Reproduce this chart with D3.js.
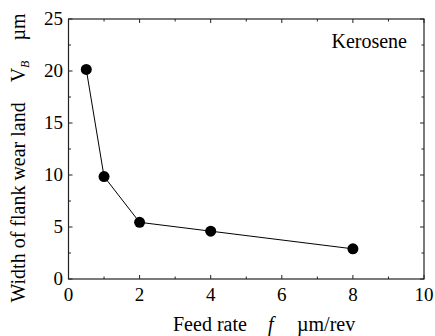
<!DOCTYPE html>
<html><head><meta charset="utf-8">
<script src="https://cdn.jsdelivr.net/npm/d3@7"></script>
<style>body{margin:0;background:#fff} svg text{font-family:'Liberation Serif','Times New Roman',serif;}</style>
</head><body>
<svg id="c" width="435" height="336"></svg>
<script>
const feedRate = [0.5, 1, 2, 4, 8];
const wearWidth = [20.15, 9.85, 5.45, 4.6, 2.9];
const xTicks = [0, 2, 4, 6, 8, 10];
const yTicks = [0, 5, 10, 15, 20, 25];
const xMinor = [1, 3, 5, 7, 9];
const yMinor = [2.5, 7.5, 12.5, 17.5, 22.5];

const svg = d3.select("#c");
const L = 68.5, R = 424, T = 19, B = 279;
const x = d3.scaleLinear().domain([0, 10]).range([L, R]);
const y = d3.scaleLinear().domain([0, 25]).range([B, T]);
const col = "#222";

function ticks(vals, len) {
  vals.forEach(v => {
    svg.append("line").attr("x1", x(v)).attr("x2", x(v)).attr("y1", B).attr("y2", B - len).attr("stroke", col);
    svg.append("line").attr("x1", x(v)).attr("x2", x(v)).attr("y1", T).attr("y2", T + len).attr("stroke", col);
  });
}
function yticks(vals, len) {
  vals.forEach(v => {
    svg.append("line").attr("y1", y(v)).attr("y2", y(v)).attr("x1", L).attr("x2", L + len).attr("stroke", col);
    svg.append("line").attr("y1", y(v)).attr("y2", y(v)).attr("x1", R).attr("x2", R - len).attr("stroke", col);
  });
}
ticks(xTicks, 4); ticks(xMinor, 2.5);
yticks(yTicks, 4); yticks(yMinor, 2.5);

svg.append("rect").attr("x", L).attr("y", T).attr("width", R - L).attr("height", B - T)
  .attr("fill", "none").attr("stroke", col).attr("stroke-width", 1.2);

xTicks.forEach(v => svg.append("text").attr("x", x(v)).attr("y", 301).attr("text-anchor", "middle")
  .attr("font-size", 19).text(v));
yTicks.forEach(v => svg.append("text").attr("x", 63).attr("y", y(v) + 6).attr("text-anchor", "end")
  .attr("font-size", 19).text(v));

const data = feedRate.map((f, i) => [f, wearWidth[i]]);
svg.append("path").datum(data).attr("d", d3.line().x(d => x(d[0])).y(d => y(d[1])))
  .attr("fill", "none").attr("stroke", "#000").attr("stroke-width", 1);
svg.selectAll("circle").data(data).enter().append("circle")
  .attr("cx", d => x(d[0])).attr("cy", d => y(d[1])).attr("r", 5.5).attr("fill", "#000");

svg.append("text").attr("x", 407).attr("y", 48).attr("text-anchor", "end")
  .attr("font-size", 20).text("Kerosene");

const xt = svg.append("text").attr("x", 173).attr("y", 331).attr("font-size", 20);
xt.append("tspan").text("Feed rate");
xt.append("tspan").attr("x", 268).attr("font-style", "italic").text("f");
xt.append("tspan").attr("x", 297).text("\u00b5m/rev");

const yt = svg.append("text").attr("transform", "translate(25,158) rotate(-90)").attr("text-anchor", "middle")
  .attr("font-size", 20);
yt.append("tspan").text("Width of flank wear land\u2003");
yt.append("tspan").text("V");
yt.append("tspan").attr("font-style", "italic").attr("font-size", 12).attr("dy", 4).text("B");
yt.append("tspan").attr("dy", -4).text("\u2003\u00b5m");
</script>
</body></html>
